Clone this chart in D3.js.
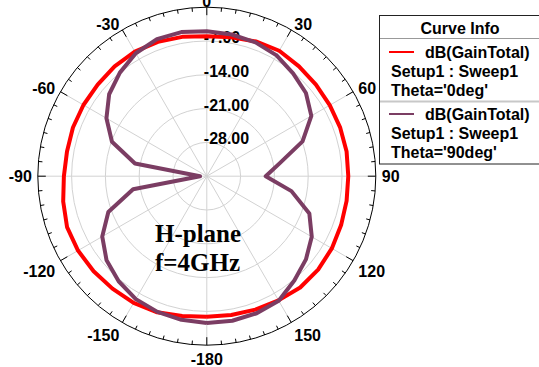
<!DOCTYPE html>
<html>
<head>
<meta charset="utf-8">
<script src="https://cdn.jsdelivr.net/npm/d3@7"></script>
<style>
  body { margin: 0; background: #fff; }
  svg { display: block; }
</style>
</head>
<body>
<svg id="chart" width="539" height="367"></svg>
<script>
// Data (angles in degrees, gain in dB)
const angles = [-180, -170, -160, -150, -140, -130, -120, -110, -100, -90, -80, -70, -60, -50, -40, -30, -20, -10,
  0, 10, 20, 30, 40, 50, 60, 70, 80, 90, 100, 110, 120, 130, 140, 150, 160, 170, 180];
const gainTheta0 = [-5.9, -5.6, -5.0, -4.7, -4.6, -4.4, -4.2, -4.2, -4.8, -5.4, -5.6, -5.5, -5.5, -5.5, -5.3, -5.2, -5.4, -5.7,
  -6.0, -5.8, -5.3, -5.0, -5.3, -5.5, -5.6, -5.6, -5.6, -5.7, -5.6, -5.4, -5.1, -4.9, -4.9, -5.3, -5.6, -5.8, -5.9];
const gainTheta90 = [-4.6, -4.8, -5.1, -5.6, -6.6, -7.9, -10.0, -13.3, -19.5, -33.6, -19.9, -14.1, -11.0, -8.6, -7.0, -5.6, -4.8, -4.7,
  -5.0, -5.2, -5.5, -6.1, -7.2, -8.2, -10.0, -13.9, -19.7, -22.8, -17.2, -12.4, -9.9, -8.2, -6.8, -5.2, -4.8, -4.6, -4.6];
const angleLabels = [0, 30, 60, 90, 120, 150, -180, -150, -120, -90, -60, -30];
const radialTicks = [-28, -21, -14, -7];
const radialLabels = ["-28.00", "-21.00", "-14.00", "-7.00"];
const seriesNames = ["dB(GainTotal)", "dB(GainTotal)"];
const seriesSetup = ["Setup1 : Sweep1", "Setup1 : Sweep1"];
const seriesTheta = ["Theta='0deg'", "Theta='90deg'"];
const seriesColors = ["#ff0000", "#7b3d63"];

const svg = d3.select("#chart");
const cx = 206.8, cy = 176.2, R = 169;
const sans = "'Liberation Sans', Arial, sans-serif";

const r = d3.scaleLinear().domain([-35, 0]).range([0, R]);
const rad = d => d * Math.PI / 180;

const g = svg.append("g").attr("transform", `translate(${cx},${cy})`);

// grid circles
g.selectAll("circle.grid")
  .data(radialTicks)
  .join("circle")
  .attr("class", "grid")
  .attr("r", d => r(d))
  .attr("fill", "none")
  .attr("stroke", "#d2d2d2")
  .attr("stroke-width", 1);

// spokes every 30 deg
g.selectAll("line.spoke")
  .data(d3.range(0, 360, 30))
  .join("line")
  .attr("class", "spoke")
  .attr("x1", 0).attr("y1", 0)
  .attr("x2", d => R * Math.sin(rad(d)))
  .attr("y2", d => -R * Math.cos(rad(d)))
  .attr("stroke", "#d2d2d2")
  .attr("stroke-width", 1);

// outer circle + ticks
g.append("circle")
  .attr("r", R)
  .attr("fill", "none")
  .attr("stroke", "#000")
  .attr("stroke-width", 1);

g.selectAll("line.tick")
  .data(d3.range(0, 360, 5))
  .join("line")
  .attr("class", "tick")
  .attr("x1", d => R * Math.sin(rad(d)))
  .attr("y1", d => -R * Math.cos(rad(d)))
  .attr("x2", d => (R - (d % 30 === 0 ? 8 : 4)) * Math.sin(rad(d)))
  .attr("y2", d => -(R - (d % 30 === 0 ? 8 : 4)) * Math.cos(rad(d)))
  .attr("stroke", "#000")
  .attr("stroke-width", 1);

// angle labels
g.selectAll("text.ang")
  .data(angleLabels)
  .join("text")
  .attr("class", "ang")
  .attr("x", d => 175 * Math.sin(rad(d)))
  .attr("y", d => -175 * Math.cos(rad(d)) + (Math.cos(rad(d)) < -0.01 ? 8 : 0))
  .attr("text-anchor", d => {
    const s = Math.sin(rad(d));
    return Math.abs(s) < 0.1 ? "middle" : (s > 0 ? "start" : "end");
  })
  .attr("dominant-baseline", "central")
  .style("font-family", sans)
  .style("font-weight", "bold")
  .style("font-size", "16px")
  .text(d => d);

// radial labels
g.selectAll("text.rad")
  .data(radialTicks)
  .join("text")
  .attr("class", "rad")
  .attr("x", -3)
  .attr("y", d => -r(d) + 2)
  .style("font-family", sans)
  .style("font-weight", "bold")
  .style("font-size", "16px")
  .text((d, i) => radialLabels[i]);

// curves
const line = d3.lineRadial()
  .angle(d => rad(d[0]))
  .radius(d => r(d[1]));

[gainTheta0, gainTheta90].forEach((vals, i) => {
  g.append("path")
    .datum(angles.map((a, j) => [a, vals[j]]))
    .attr("fill", "none")
    .attr("stroke", seriesColors[i])
    .attr("stroke-width", 4)
    .attr("stroke-linejoin", "round")
    .attr("d", line);
});

// annotation
const note = svg.append("text")
  .attr("x", 155)
  .attr("y", 242)
  .style("font-family", "'Liberation Serif', 'Times New Roman', serif")
  .style("font-weight", "bold")
  .style("font-size", "25px");
note.append("tspan").attr("x", 155).attr("y", 242).text("H-plane");
note.append("tspan").attr("x", 155).attr("y", 271).text("f=4GHz");

// legend
const lg = svg.append("g");
lg.append("rect")
  .attr("x", 379.5).attr("y", 15.5)
  .attr("width", 200).attr("height", 148.5)
  .attr("fill", "#fff")
  .attr("stroke", "#222")
  .attr("stroke-width", 1);
lg.append("line")
  .attr("x1", 380).attr("x2", 539)
  .attr("y1", 38.5).attr("y2", 38.5)
  .attr("stroke", "#999");
lg.append("line")
  .attr("x1", 380).attr("x2", 539)
  .attr("y1", 101.5).attr("y2", 101.5)
  .attr("stroke", "#c8c8c8")
  .attr("stroke-width", 2);
lg.append("text")
  .attr("x", 460).attr("y", 28)
  .attr("text-anchor", "middle")
  .attr("dominant-baseline", "central")
  .style("font-family", sans).style("font-weight", "bold").style("font-size", "16px")
  .text("Curve Info");

seriesNames.forEach((name, i) => {
  const y0 = 52 + i * 62;
  lg.append("line")
    .attr("x1", 389).attr("x2", 414)
    .attr("y1", y0).attr("y2", y0)
    .attr("stroke", seriesColors[i])
    .attr("stroke-width", 2);
  const rows = [[425, y0, name], [391, y0 + 19, seriesSetup[i]], [391, y0 + 38, seriesTheta[i]]];
  rows.forEach(([x, y, t]) => {
    lg.append("text")
      .attr("x", x).attr("y", y)
      .attr("dominant-baseline", "central")
      .style("font-family", sans).style("font-weight", "bold").style("font-size", "16px")
      .text(t);
  });
});
</script>
</body>
</html>
